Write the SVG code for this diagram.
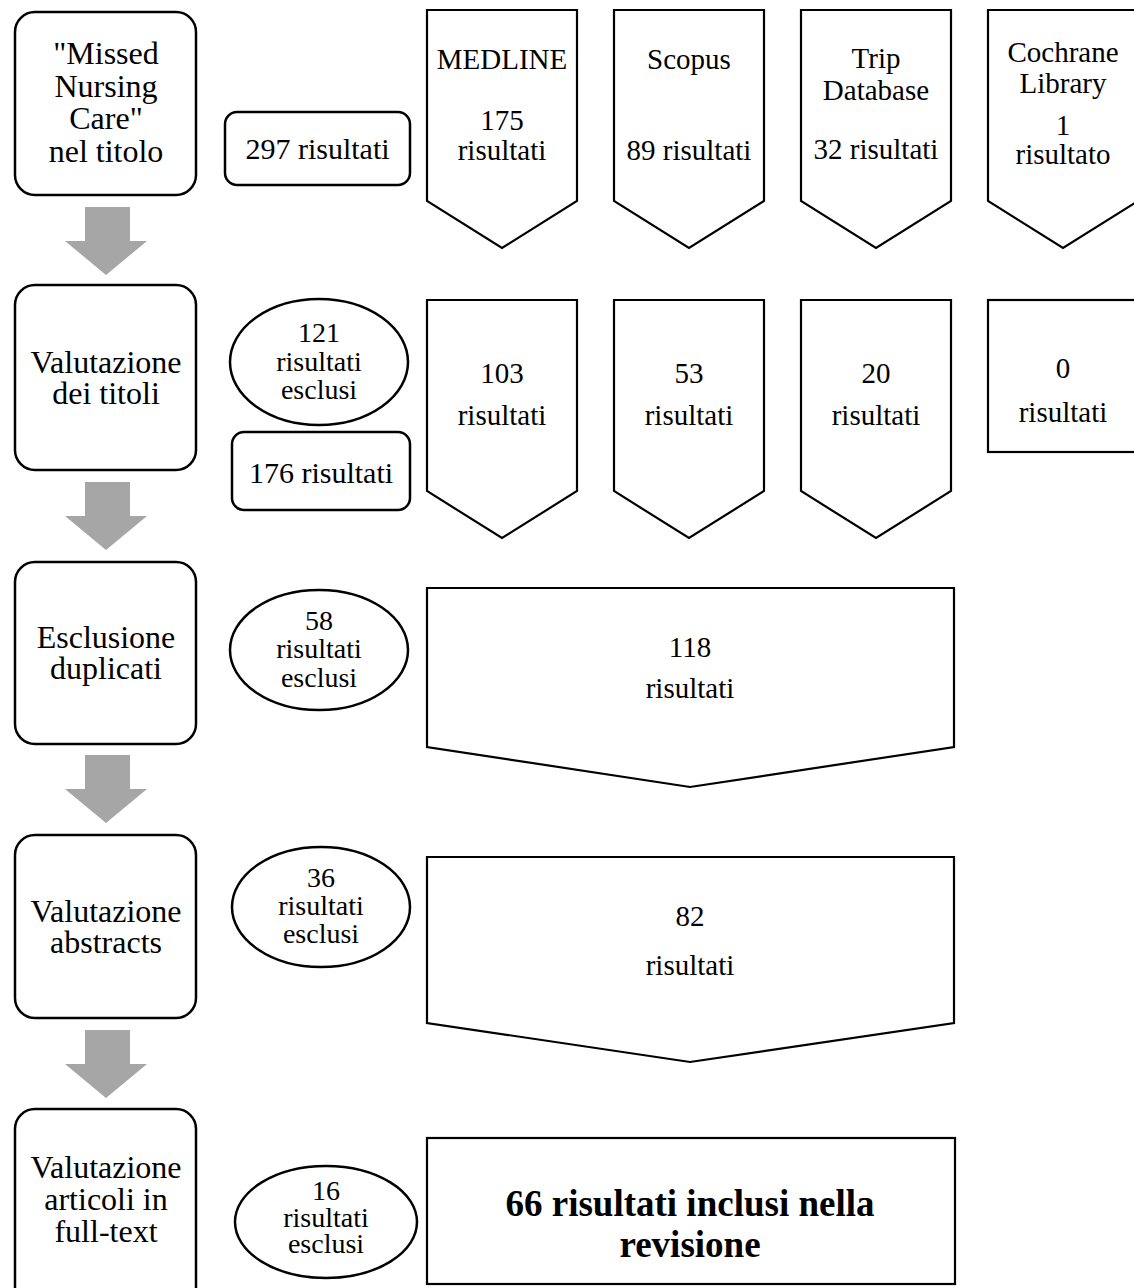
<svg xmlns="http://www.w3.org/2000/svg" width="1134" height="1288" viewBox="0 0 1134 1288">
<style>
.box{fill:#fff;stroke:#000;stroke-width:2.5}
.shp{fill:#fff;stroke:#000;stroke-width:2.2;stroke-linejoin:miter}
.t{font-family:"Liberation Serif","Times New Roman",serif;fill:#000;text-anchor:middle}
.l{font-size:32px}
.p{font-size:29px}
.e{font-size:28px}
.b{font-size:37px;font-weight:bold}
.arr{fill:#A6A6A6}
</style>
<defs>
<polygon id="downArrow" points="85,207 130,207 130,241 147,241 106,275 65,241 85,241"/>
</defs>
<rect width="1134" height="1288" fill="#fff"/>
<g id="connectors" class="arr">
<use href="#downArrow"/>
<use href="#downArrow" transform="translate(0,275)"/>
<use href="#downArrow" transform="translate(0,548)"/>
<use href="#downArrow" transform="translate(0,823)"/>
</g>
<g id="step1">
<rect class="box" x="15" y="12" width="181" height="183" rx="20"/>
<text class="t l" x="106" y="64">"Missed</text>
<text class="t l" x="106" y="97">Nursing</text>
<text class="t l" x="106" y="129">Care"</text>
<text class="t l" x="106" y="162">nel titolo</text>
</g>
<g id="step2">
<rect class="box" x="15" y="285" width="181" height="185" rx="20"/>
<text class="t l" x="106" y="373">Valutazione</text>
<text class="t l" x="106" y="404">dei titoli</text>
</g>
<g id="step3">
<rect class="box" x="15" y="562" width="181" height="182" rx="20"/>
<text class="t l" x="106" y="648">Esclusione</text>
<text class="t l" x="106" y="679">duplicati</text>
</g>
<g id="step4">
<rect class="box" x="15" y="835" width="181" height="183" rx="20"/>
<text class="t l" x="106" y="922">Valutazione</text>
<text class="t l" x="106" y="953">abstracts</text>
</g>
<g id="step5">
<rect class="box" x="15" y="1109" width="181" height="210" rx="20"/>
<text class="t l" x="106" y="1178">Valutazione</text>
<text class="t l" x="106" y="1210">articoli in</text>
<text class="t l" x="106" y="1242">full-text</text>
</g>
<g id="total297">
<rect class="box" x="225" y="112" width="185" height="73" rx="12"/>
<text class="t p" x="317.5" y="159" style="font-size:30px">297 risultati</text>
</g>
<g id="medline1">
<path class="shp" d="M427,10 H577 V201 L502,248 L427,201 Z"/>
<text class="t p" x="502" y="69">MEDLINE</text>
<text class="t p" x="502" y="130">175</text>
<text class="t p" x="502" y="160">risultati</text>
</g>
<g id="scopus1">
<path class="shp" d="M614,10 H764 V201 L689,248 L614,201 Z"/>
<text class="t p" x="689" y="69">Scopus</text>
<text class="t p" x="689" y="160">89 risultati</text>
</g>
<g id="trip1">
<path class="shp" d="M801,10 H951 V201 L876,248 L801,201 Z"/>
<text class="t p" x="876" y="68">Trip</text>
<text class="t p" x="876" y="100">Database</text>
<text class="t p" x="876" y="159">32 risultati</text>
</g>
<g id="cochrane1">
<path class="shp" d="M988,10 H1138 V201 L1063,248 L988,201 Z"/>
<text class="t p" x="1063" y="62">Cochrane</text>
<text class="t p" x="1063" y="93">Library</text>
<text class="t p" x="1063" y="135">1</text>
<text class="t p" x="1063" y="164">risultato</text>
</g>
<g id="excl121">
<ellipse class="box" cx="319" cy="362" rx="89" ry="63"/>
<text class="t e" x="319" y="342">121</text>
<text class="t e" x="319" y="371">risultati</text>
<text class="t e" x="319" y="399">esclusi</text>
</g>
<g id="total176">
<rect class="box" x="232" y="432" width="178" height="78" rx="12"/>
<text class="t p" x="321" y="483" style="font-size:30px">176 risultati</text>
</g>
<g id="medline2">
<path class="shp" d="M427,300 H577 V491 L502,538 L427,491 Z"/>
<text class="t p" x="502" y="383">103</text>
<text class="t p" x="502" y="425">risultati</text>
</g>
<g id="scopus2">
<path class="shp" d="M614,300 H764 V491 L689,538 L614,491 Z"/>
<text class="t p" x="689" y="383">53</text>
<text class="t p" x="689" y="425">risultati</text>
</g>
<g id="trip2">
<path class="shp" d="M801,300 H951 V491 L876,538 L801,491 Z"/>
<text class="t p" x="876" y="383">20</text>
<text class="t p" x="876" y="425">risultati</text>
</g>
<g id="cochrane2">
<rect class="shp" x="988" y="300" width="160" height="152"/>
<text class="t p" x="1063" y="378">0</text>
<text class="t p" x="1063" y="422">risultati</text>
</g>
<g id="excl58">
<ellipse class="box" cx="319" cy="650" rx="89" ry="60"/>
<text class="t e" x="319" y="630">58</text>
<text class="t e" x="319" y="658">risultati</text>
<text class="t e" x="319" y="687">esclusi</text>
</g>
<g id="dedup118">
<path class="shp" d="M427,588 H954 V747 L690,787 L427,747 Z"/>
<text class="t p" x="690" y="657">118</text>
<text class="t p" x="690" y="698">risultati</text>
</g>
<g id="excl36">
<ellipse class="box" cx="321" cy="907" rx="89" ry="60"/>
<text class="t e" x="321" y="887">36</text>
<text class="t e" x="321" y="915">risultati</text>
<text class="t e" x="321" y="943">esclusi</text>
</g>
<g id="abs82">
<path class="shp" d="M427,857 H954 V1023 L690,1062 L427,1023 Z"/>
<text class="t p" x="690" y="926">82</text>
<text class="t p" x="690" y="975">risultati</text>
</g>
<g id="excl16">
<ellipse class="box" cx="326" cy="1222" rx="91" ry="56"/>
<text class="t e" x="326" y="1200">16</text>
<text class="t e" x="326" y="1227">risultati</text>
<text class="t e" x="326" y="1253">esclusi</text>
</g>
<g id="final66">
<rect class="shp" x="427" y="1138" width="528" height="146"/>
<text class="t b" x="690" y="1216">66 risultati inclusi nella</text>
<text class="t b" x="690" y="1257">revisione</text>
</g>
</svg>
